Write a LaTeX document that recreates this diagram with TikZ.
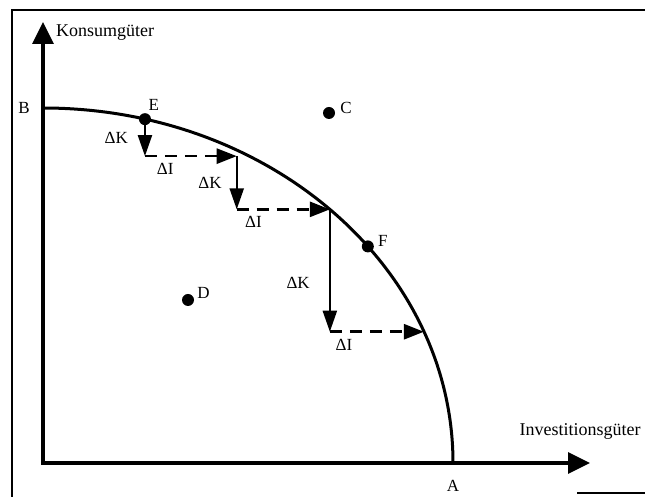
\documentclass[tikz,border=0pt]{standalone}
\usepackage{fontspec}
\setmainfont{Liberation Serif}
\usetikzlibrary{arrows.meta,positioning,calc}
\tikzset{
  axisline/.style={{Triangle[length=22pt,width=21pt]}-{Triangle[length=22pt,width=21pt]},line width=3.5pt},
  ppfcurve/.style={line width=3pt},
  kflow/.style={-{Triangle[length=21pt,width=14pt]},line width=2.2pt},
  iflow/.style={-{Triangle[length=20pt,width=15pt]},line width=2.6pt,dash pattern=on 12pt off 8pt},
  dotnode/.style={circle,fill=black,inner sep=0pt,minimum size=12pt},
  ptlabel/.style={font=\fontsize{17}{19}\selectfont,inner sep=1pt},
  axislabel/.style={font=\fontsize{18}{20}\selectfont,inner sep=1pt},
  dlabel/.style={font=\fontsize{17}{19}\selectfont,inner sep=1pt},
  framebox/.style={line width=1.5pt}
}
\begin{document}
\begin{tikzpicture}[x=1pt,y=1pt]
    \useasboundingbox (0,0) rectangle (645,497);

    % frame of the scan
    \coordinate (fBL) at (12,0);
    \coordinate (fTL) at (12,487);
    \coordinate (fTR) at (645,487);
    \coordinate (fBa) at (577,4);
    \coordinate (fBb) at (645,4);
    \draw[framebox] (fBL) -- (fTL) -- (fTR);
    \draw[framebox] (fBa) -- (fBb);

    % axes
    \coordinate (O) at (43,34);
    \coordinate (ytop) at (43,475);
    \coordinate (xend) at (590,34);
    \draw[axisline] (ytop) -- (O) -- (xend);

    % transformation curve
    \coordinate (B) at ($(O)+(0,355)$);
    \coordinate (A) at ($(O)+(410,0)$);
    \draw[ppfcurve] (B) arc[start angle=90,end angle=0,x radius=410pt,y radius=355pt];

    \coordinate (E) at ($(O)+(75.6:410pt and 355pt)$);
    \coordinate (P1) at ($(O)+(61.8:410pt and 355pt)+(0,-6)$);
    \coordinate (P2) at ($(O)+(45.6:410pt and 355pt)$);
    \coordinate (F) at ($(O)+(37.6:410pt and 355pt)$);
    \coordinate (P3) at ($(O)+(21.7:410pt and 355pt)$);

    % steps along the curve
    \draw[kflow] (E) -- node[dlabel,left=15pt] (dK1) {ΔK} (E |- P1);
    \draw[iflow] (E |- P1) -- node[dlabel,pos=0.22,below=5pt] (dI1) {ΔI} (P1);
    \draw[kflow] (P1) -- node[dlabel,left=13pt] (dK2) {ΔK} (P1 |- P2);
    \draw[iflow] (P1 |- P2) -- node[dlabel,pos=0.18,below=5pt] (dI2) {ΔI} (P2);
    \draw[kflow] (P2) -- node[dlabel,pos=0.6,left=18pt] (dK3) {ΔK} (P2 |- P3);
    \draw[iflow] (P2 |- P3) -- node[dlabel,pos=0.15,below=5pt] (dI3) {ΔI} (P3);

    % points
    \node[dotnode] (dotE) at (E) {};
    \node[dotnode] (dotF) at (F) {};
    \node[dotnode] (dotC) at (329,384) {};
    \node[dotnode] (dotD) at (188,197) {};

    \node[ptlabel,above right=3pt and -2pt of dotE] (lblE) {E};
    \node[ptlabel,right=4pt of dotC,yshift=5pt] (lblC) {C};
    \node[ptlabel,right=2pt of dotD,yshift=7pt] (lblD) {D};
    \node[ptlabel,right=3pt of dotF,yshift=5pt] (lblF) {F};
    \node[ptlabel,left=12pt of B] (lblB) {B};
    \node[ptlabel,below=16pt of A] (lblA) {A};

    \node[axislabel,right=12pt of ytop,yshift=-11pt] (lblK) {Konsumgüter};
    \node[axislabel,above=22pt of xend,xshift=-10pt] (lblI) {Investitionsgüter};
\end{tikzpicture}
\end{document}
